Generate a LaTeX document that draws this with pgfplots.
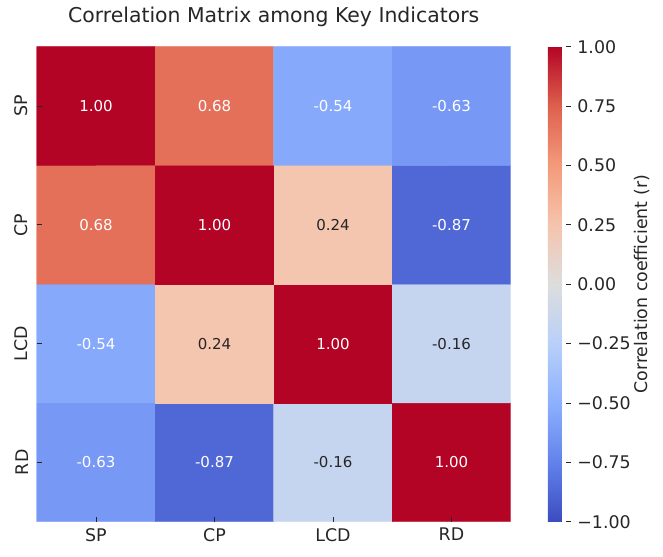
\documentclass[border=0pt]{standalone}
\usepackage{fontspec}
\setmainfont{DejaVu Sans}
\usepackage{pgfplots}
\usepackage{pgfplotstable}
\pgfplotsset{compat=1.18}
\definecolor{txt}{HTML}{262626}

% correlation matrix, row SP at the top (y=3)
\pgfplotstableread{
x y c
0 0 -0.63
1 0 -0.87
2 0 -0.16
3 0 1.00
0 1 -0.54
1 1 0.24
2 1 1.00
3 1 -0.16
0 2 0.68
1 2 1.00
2 2 0.24
3 2 -0.87
0 3 1.00
1 3 0.68
2 3 -0.54
3 3 -0.63
}\corr

\pgfplotstableread{
x y s
0 0 -0.63
1 0 -0.87
3 0 1.00
0 1 -0.54
2 1 1.00
0 2 0.68
1 2 1.00
3 2 -0.87
0 3 1.00
1 3 0.68
2 3 -0.54
3 3 -0.63
}\annwhite

\pgfplotstableread{
x y s
2 0 -0.16
1 1 0.24
3 1 -0.16
2 2 0.24
}\anndark

\newcommand{\tickfont}{\fontsize{17.4bp}{20bp}\selectfont}
\newcommand{\annfont}{\fontsize{15bp}{18bp}\selectfont}

\begin{document}
\begin{tikzpicture}
\path (-36.7bp,-35.3bp) rectangle (626.3bp,521.7bp);
\begin{axis}[
    at={(0,0)}, anchor=south west,
    scale only axis,
    width=474bp, height=475bp,
    xmin=-0.5, xmax=3.5, ymin=-0.5, ymax=3.5,
    enlargelimits=false,
    axis line style={draw=none},
    axis on top,
    xtick={0,1,2,3}, ytick={0,1,2,3},
    xticklabels={SP,CP,LCD,RD},
    yticklabels={RD,LCD,CP,SP},
    tickpos=left,
    tick align=inside,
    major tick length=5bp,
    tick style={txt, line width=0.8bp},
    ticklabel style={font=\tickfont, text=txt},
    xticklabel style={anchor=north, inner ysep=6.3bp},
    yticklabel style={rotate=90, anchor=south, inner ysep=8.4bp},
    title={Correlation Matrix among Key Indicators},
    title style={anchor=base, yshift=18.4bp, font=\fontsize{20.4bp}{24bp}\selectfont, text=txt},
    colormap={coolwarm}{rgb255=(59,76,192) rgb255=(98,130,234) rgb255=(141,176,254) rgb255=(184,208,249) rgb255=(221,221,221) rgb255=(245,196,173) rgb255=(244,154,123) rgb255=(222,96,76) rgb255=(180,4,38)},
    point meta min=-1, point meta max=1,
    colorbar,
    colorbar style={
        at={(parent axis.north east)}, anchor=north west, xshift=28.6bp,
        scale only axis, width=23.4bp, height=475bp,
        axis line style={draw=none},
        axis on top,
        ytick={-1,-0.75,-0.5,-0.25,0,0.25,0.5,0.75,1},
        yticklabels={−1.00,−0.75,−0.50,−0.25,0.00,0.25,0.50,0.75,1.00},
        ytick pos=right, yticklabel pos=right,
        tick align=inside,
        major tick length=5bp,
        tick style={txt, line width=0.8bp},
        yticklabel style={anchor=west, inner xsep=6bp, font=\tickfont, text=txt},
        ylabel={Correlation coefficient (r)},
        every axis y label/.style={at={(axis description cs:4.03,0.5)}, rotate=90, anchor=center, font=\tickfont, text=txt},
    },
]
\addplot[matrix plot*, mesh/cols=4, point meta=explicit] table[x=x, y=y, meta=c] {\corr};

\addplot[only marks, mark=none, nodes near coords, point meta=explicit symbolic,
    nodes near coords align={center},
    every node near coord/.append style={font=\annfont, text=white}]
    table[x=x, y=y, meta=s] {\annwhite};

\addplot[only marks, mark=none, nodes near coords, point meta=explicit symbolic,
    nodes near coords align={center},
    every node near coord/.append style={font=\annfont, text=txt}]
    table[x=x, y=y, meta=s] {\anndark};
\end{axis}
\end{tikzpicture}
\end{document}
